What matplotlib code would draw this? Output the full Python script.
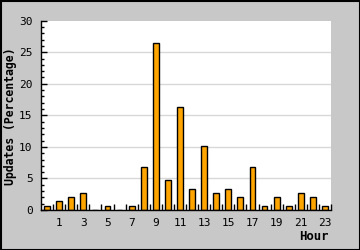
import matplotlib.pyplot as plt
import numpy as np

# Updates per hour of day (percentage)
hours = list(range(24))
hour_labels = ['' if h % 2 == 0 else str(h) for h in hours]
percentages = [0.68, 1.36, 2.04, 2.72, 0.0, 0.68, 0.0, 0.68, 6.80, 26.53, 4.76, 16.33,
               3.40, 10.20, 2.72, 3.40, 2.04, 6.80, 0.68, 2.04, 0.68, 2.72, 2.04, 0.68]

plt.rcParams['font.family'] = 'DejaVu Sans Mono'

fig = plt.figure(figsize=(3.6, 2.5), dpi=100, facecolor='#c8c8c8')
ax = fig.add_axes([41 / 360, 40 / 250, 290 / 360, 189.3 / 250])
ax.set_facecolor('white')

ax.bar(hours, percentages, width=0.48, color='#ffa500', edgecolor='black',
       linewidth=1.0, zorder=3)

ax.set_xlim(-0.5, 23.5)
ax.set_ylim(0, 30)

# grid
for y in range(5, 30, 5):
    ax.axhline(y, color='#d8d8d8', linewidth=1.0, zorder=1)

ax.set_yticks(range(0, 31, 5))
ax.set_yticks(range(0, 31), minor=True)
ax.tick_params(axis='y', which='major', direction='in', length=4, width=1,
               labelsize=8, pad=6)
ax.tick_params(axis='y', which='minor', direction='in', length=2.5, width=1)

ax.set_xticks(hours)
ax.set_xticklabels(hour_labels)
ax.set_xticks(np.arange(0.5, 24, 1), minor=True)
ax.tick_params(axis='x', which='major', length=0, labelsize=8, pad=5.5)
ax.tick_params(axis='x', which='minor', direction='in', length=4, width=1)

for s in ['top', 'right']:
    ax.spines[s].set_visible(False)
for s in ['left', 'bottom']:
    ax.spines[s].set_linewidth(1.0)
    ax.spines[s].set_zorder(4)

fig.text(11 / 360, 1 - 116.5 / 250, 'Updates (Percentage)', rotation=90,
         ha='center', va='center', fontsize=8.3, fontweight='bold')
fig.text(329 / 360, 1 - 236 / 250, 'Hour', ha='right', va='center',
         fontsize=8.8, fontweight='bold')

# outer border
fig.patches.append(plt.Rectangle((0.5 / 360, 0.5 / 250), 359 / 360, 249 / 250,
                                 transform=fig.transFigure, fill=False,
                                 edgecolor='black', linewidth=1.5))

fig.savefig('out.png', dpi=100, facecolor=fig.get_facecolor())
